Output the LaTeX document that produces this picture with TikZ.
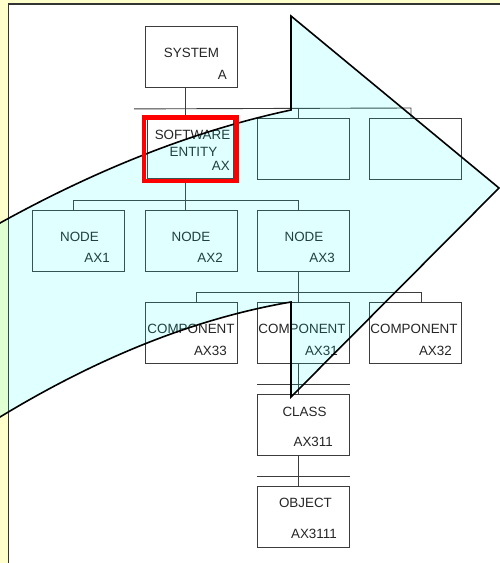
\documentclass[tikz,border=0pt]{standalone}
\usepackage{fontspec}
\setmainfont{Liberation Sans}
\usetikzlibrary{calc}
\definecolor{bgyellow}{RGB}{255,255,204}
\definecolor{arrowcyan}{RGB}{0,255,255}
\definecolor{boxline}{RGB}{60,60,60}
\begin{document}
\begin{tikzpicture}[x=1pt,y=-1pt,
  box/.style={draw=boxline, line width=0.9pt, fill=white, inner sep=0pt, anchor=north west, minimum width=92pt, minimum height=61pt},
  lbl/.style={inner sep=0pt, text height=9.6pt, text depth=0pt, font=\fontsize{13.4}{16}\selectfont, text=black!85},
  conn/.style={draw=boxline, line width=0.9pt},
  bigarrow/.style={fill=arrowcyan, fill opacity=0.12, draw=black, line width=1.6pt, line join=miter},
  highlight/.style={draw=red, line width=4.5pt}
]
\useasboundingbox (0,0) rectangle (500,563);
\clip (0,0) rectangle (500,563);
\fill[bgyellow] (0,0) rectangle (500,563);
\draw[fill=white, draw=black!80, line width=1.2pt] (8.5,4) rectangle (520,590);

% boxes
\node[box] (sys) at (145,26) {};
\node[box, minimum width=86pt, minimum height=59pt] (se) at (147,119) {};
\node[box] (b2) at (257,118) {};
\node[box] (b3) at (369,118) {};
\node[box] (n1) at (32,210) {};
\node[box] (n2) at (145,210) {};
\node[box] (n3) at (257,210) {};
\node[box] (c33) at (145,302) {};
\node[box] (c31) at (257,302) {};
\node[box] (c32) at (369,302) {};
\node[box] (cls) at (257,394) {};
\node[box] (obj) at (257,486) {};

% connectors
\draw[conn] ($(sys.south west)+(-11,21)$) -- ($(b3.north west)+(42,-10)$) -- ($(b3.north west)+(42,0)$);
\draw[conn] ($(b2.north west)+(41,-10)$) -- ($(b2.north west)+(41,0)$);
\draw[conn] ($(sys.south west)+(40,0)$) -- ($(se.north west)+(38,0)$);
\draw[conn] ($(n1.north west)+(41,0)$) -- ($(n1.north west)+(41,-10)$) -- ($(n3.north west)+(41,-10)$) -- ($(n3.north west)+(41,0)$);
\draw[conn] ($(se.south west)+(38,0)$) -- ($(n2.north west)+(40,0)$);
\draw[conn] ($(c33.north west)+(51,0)$) -- ($(c33.north west)+(51,-10)$) -- ($(c32.north west)+(52,-10)$) -- ($(c32.north west)+(52,0)$);
\draw[conn] ($(n3.south west)+(41,0)$) -- ($(c31.north west)+(41,0)$);
\draw[conn] ($(cls.north west)+(0,-10)$) -- ($(cls.north east)+(0,-10)$);
\draw[conn] ($(c31.south west)+(41,0)$) -- ($(cls.north west)+(41,0)$);
\draw[conn] ($(obj.north west)+(0,-10)$) -- ($(obj.north east)+(0,-10)$);
\draw[conn] ($(cls.south west)+(41,0)$) -- ($(obj.north west)+(41,0)$);

% labels
\node[lbl] (sysT) at (191.5,53) {SYSTEM};
\node[lbl, anchor=east] (sysA) at (227,75) {A};
\node[lbl] (seT1) at (192.5,135) {SOFTWARE};
\node[lbl] (seT2) at (193.5,152) {ENTITY};
\node[lbl, anchor=east] (seT3) at (230,166) {AX};
\node[lbl] (n1T) at (79.5,237) {NODE};
\node[lbl, anchor=east] (n1A) at (110,258) {AX1};
\node[lbl] (n2T) at (191,237) {NODE};
\node[lbl, anchor=east] (n2A) at (223,258) {AX2};
\node[lbl] (n3T) at (304,237) {NODE};
\node[lbl, anchor=east] (n3A) at (335,258) {AX3};
\node[lbl] (c33T) at (191,329) {COMPONENT};
\node[lbl, anchor=east] (c33A) at (227,351) {AX33};
\node[lbl] (c31T) at (302,329) {COMPONENT};
\node[lbl, anchor=east] (c31A) at (338,351) {AX31};
\node[lbl] (c32T) at (414,329) {COMPONENT};
\node[lbl, anchor=east] (c32A) at (452,351) {AX32};
\node[lbl] (clsT) at (304.5,412) {CLASS};
\node[lbl, anchor=east] (clsA) at (333,442) {AX311};
\node[lbl] (objT) at (305.5,503) {OBJECT};
\node[lbl, anchor=east] (objA) at (337,534) {AX3111};

% big arrow
\draw[bigarrow] (-20,234) -- (0,223) .. controls (100,167.7) and (197,130) .. (291,110) -- (291,16) -- (499,188) -- (291,397) -- (291,302) .. controls (197,318) and (100,356.3) .. (0,417) -- (-20,428) -- cycle;

% red highlight
\draw[highlight] ($(se.north west)+(-3.2,-1.5)$) rectangle ($(se.south east)+(2.8,2)$);
\end{tikzpicture}
\end{document}
